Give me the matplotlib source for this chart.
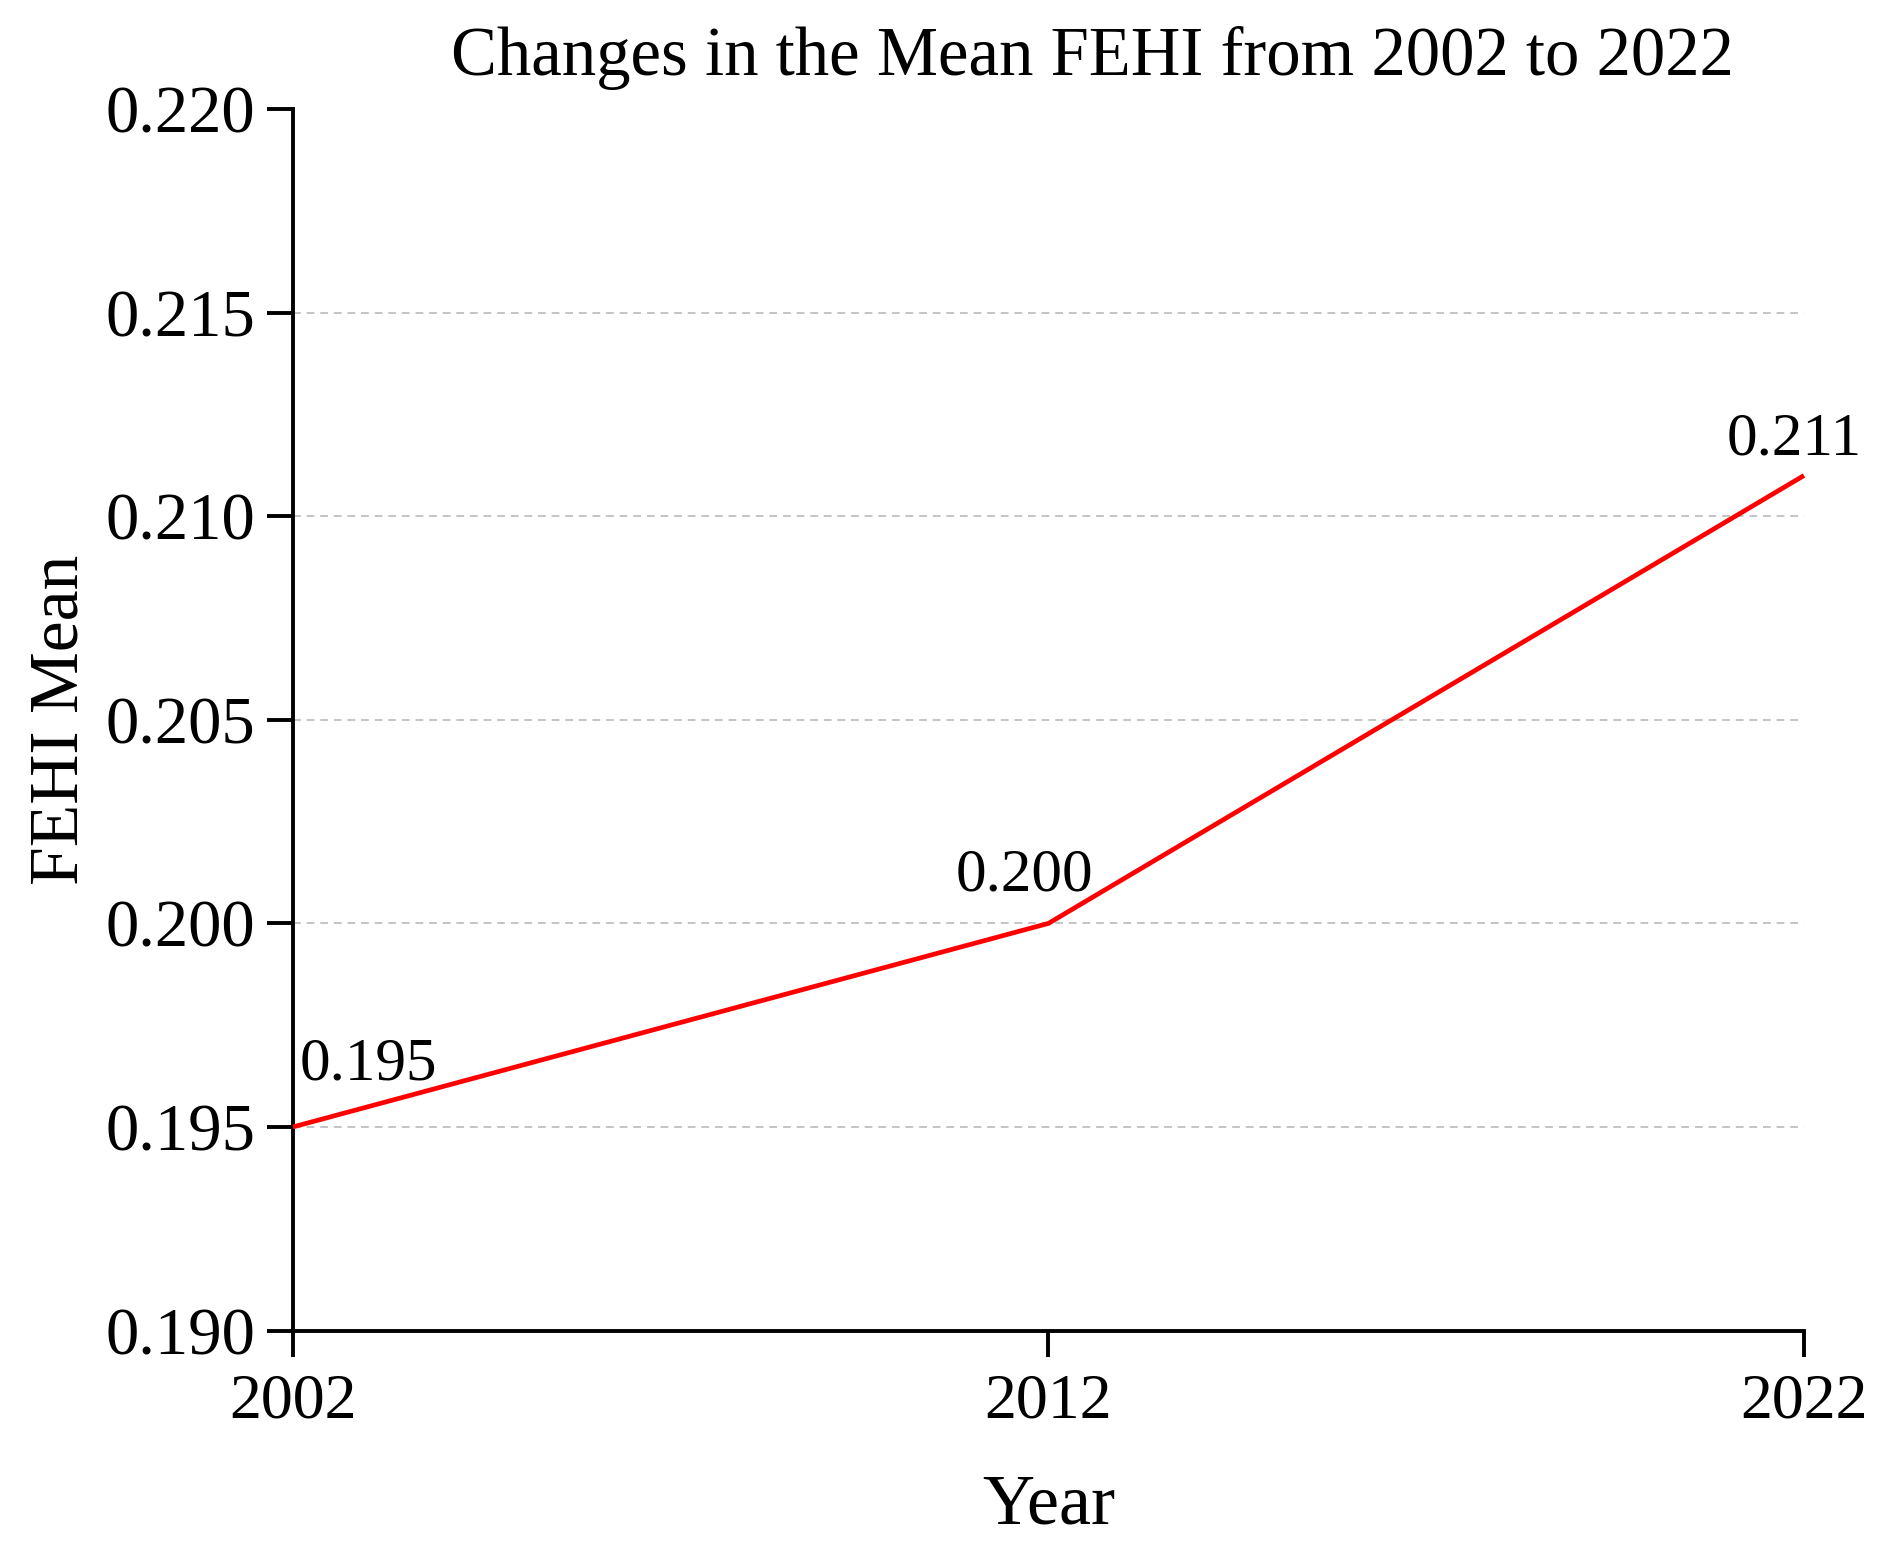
import matplotlib
matplotlib.use("Agg")
import matplotlib.pyplot as plt

years = [2002, 2012, 2022]
fehi_mean = [0.195, 0.200, 0.211]
labels = ["0.195", "0.200", "0.211"]
yticks = [0.190, 0.195, 0.200, 0.205, 0.210, 0.215, 0.220]
ytick_labels = ["0.190", "0.195", "0.200", "0.205", "0.210", "0.215", "0.220"]

plt.rcParams['font.family'] = ['Liberation Serif', 'DejaVu Serif']

fig = plt.figure(figsize=(18.9, 15.58), dpi=100)
ax = fig.add_axes([0.155, 0.146, 0.7995, 0.784])

for yv in yticks[1:-1]:
    ax.axhline(yv, xmin=0, xmax=1, color='#c4c4c4', lw=1.4, ls=(0, (4, 3)), zorder=1)

ax.plot(years, fehi_mean, color='#ff0000', lw=3.4, zorder=3, solid_capstyle='butt', clip_on=False)

offsets = [(5, 34, 'left'), (-17, 24, 'center'), (-7, 15, 'center')]
for x, y, t, (dx, dy, ha) in zip(years, fehi_mean, labels, offsets):
    ax.annotate(t, (x, y), xytext=(dx, dy), textcoords='offset points',
                ha=ha, va='baseline', fontsize=44)

ax.set_xlim(2002, 2022)
ax.set_ylim(0.190, 0.220)
ax.set_xticks(years)
ax.set_xticklabels([str(y) for y in years])
ax.set_yticks(yticks)
ax.set_yticklabels(ytick_labels)

for s in ['top', 'right']:
    ax.spines[s].set_visible(False)
for s in ['left', 'bottom']:
    ax.spines[s].set_linewidth(2.8)

ax.tick_params(axis='both', direction='out', length=19, width=2.8)
ax.tick_params(axis='y', labelsize=48, pad=8)
ax.tick_params(axis='x', labelsize=46, pad=12)

ax.set_xlabel('Year', fontsize=52, labelpad=30)
ax.set_ylabel('FEHI Mean', fontsize=50, labelpad=9)

fig.text(0.578, 0.952, 'Changes in the Mean FEHI from 2002 to 2022',
         ha='center', va='baseline', fontsize=49.5)

fig.savefig('out.png', dpi=100, facecolor='white')
